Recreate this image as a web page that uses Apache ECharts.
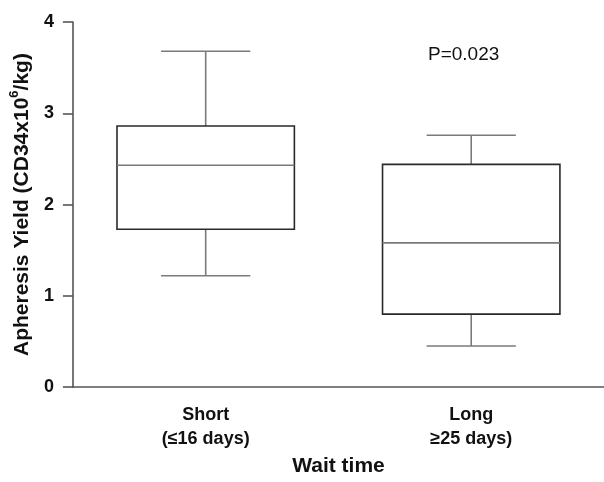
<!DOCTYPE html>
<html>
<head>
<meta charset="UTF-8">
<title>Apheresis yield by wait time</title>
<script src="https://cdn.jsdelivr.net/npm/echarts@6/dist/echarts.min.js"></script>
<style>
  html, body { margin: 0; padding: 0; background: #fff; }
  #chart { width: 604px; height: 482px; }
</style>
</head>
<body>
<div id="chart"></div>
<script>
  // categories + box stats (min, q1, median, q3, max)
  const groups = ['Short\n(≤16 days)', 'Long\n≥25 days)'];
  const whiskerLow = [1.22, 0.45];
  const q1 = [1.73, 0.80];
  const median = [2.43, 1.58];
  const q3 = [2.86, 2.44];
  const whiskerHigh = [3.68, 2.76];
  const yTicks = [0, 1, 2, 3, 4];
  const pText = 'P=0.023';

  const boxData = groups.map((g, i) => [i, whiskerLow[i], q1[i], median[i], q3[i], whiskerHigh[i]]);

  const font = '"Liberation Sans", Arial, sans-serif';

  // box + whiskers, caps half as wide as the box
  function renderBox(params, api) {
    const idx = api.value(0);
    const band = api.size([1, 0])[0];
    const boxHalf = band * 0.334;
    const capHalf = band * 0.168;
    const lo = api.coord([idx, api.value(1)]);
    const b1 = api.coord([idx, api.value(2)]);
    const md = api.coord([idx, api.value(3)]);
    const b3 = api.coord([idx, api.value(4)]);
    const hi = api.coord([idx, api.value(5)]);
    const x = lo[0];
    const grey = { stroke: '#7a7a7a', lineWidth: 1.6 };
    return {
      type: 'group',
      children: [
        { type: 'line', shape: { x1: x, y1: hi[1], x2: x, y2: b3[1] }, style: grey },
        { type: 'line', shape: { x1: x - capHalf, y1: hi[1], x2: x + capHalf, y2: hi[1] }, style: grey },
        { type: 'line', shape: { x1: x, y1: b1[1], x2: x, y2: lo[1] }, style: grey },
        { type: 'line', shape: { x1: x - capHalf, y1: lo[1], x2: x + capHalf, y2: lo[1] }, style: grey },
        { type: 'rect', shape: { x: x - boxHalf, y: b3[1], width: boxHalf * 2, height: b1[1] - b3[1] },
          style: { fill: 'none', stroke: '#2a2a2a', lineWidth: 1.6 } },
        { type: 'line', shape: { x1: x - boxHalf, y1: md[1], x2: x + boxHalf, y2: md[1] }, style: grey }
      ]
    };
  }

  const chart = echarts.init(document.getElementById('chart'));
  chart.setOption({
    animation: false,
    grid: { left: 72, right: -2, top: 22, bottom: 87 },
    xAxis: {
      type: 'category',
      data: groups,
      name: 'Wait time',
      nameLocation: 'middle',
      nameGap: 67,
      nameTextStyle: { fontFamily: font, fontWeight: 'bold', fontSize: 21, color: '#111' },
      axisLine: { lineStyle: { color: '#555', width: 1.6 } },
      axisTick: { alignWithLabel: true, length: 10, lineStyle: { color: '#555', width: 1.6 } },
      axisLabel: { fontFamily: font, fontWeight: 'bold', fontSize: 18, color: '#111', lineHeight: 24, margin: 16 }
    },
    yAxis: {
      type: 'value',
      min: yTicks[0],
      max: yTicks[yTicks.length - 1],
      interval: 1,
      name: '{b|Apheresis Yield (CD34x10}{s|6}{b|/kg)}',
      nameLocation: 'middle',
      nameGap: 37,
      nameTextStyle: {
        color: '#111',
        rich: {
          b: { fontFamily: font, fontWeight: 'bold', fontSize: 21, color: '#111', lineHeight: 25, verticalAlign: 'bottom' },
          s: { fontFamily: font, fontWeight: 'bold', fontSize: 13, color: '#111', lineHeight: 25, verticalAlign: 'top' }
        }
      },
      splitLine: { show: false },
      axisLine: { show: true, lineStyle: { color: '#555', width: 1.6 } },
      axisTick: { show: true, length: 10, lineStyle: { color: '#555', width: 1.6 } },
      axisLabel: { fontFamily: font, fontWeight: 'bold', fontSize: 18, color: '#111', margin: 19 }
    },
    graphic: [{
      type: 'text',
      left: 428,
      top: 45,
      style: { text: pText, fontFamily: font, fontSize: 19, fill: '#111' }
    }],
    series: [{
      type: 'custom',
      renderItem: renderBox,
      encode: { x: 0, y: [1, 2, 3, 4, 5] },
      data: boxData
    }]
  });
</script>
</body>
</html>
